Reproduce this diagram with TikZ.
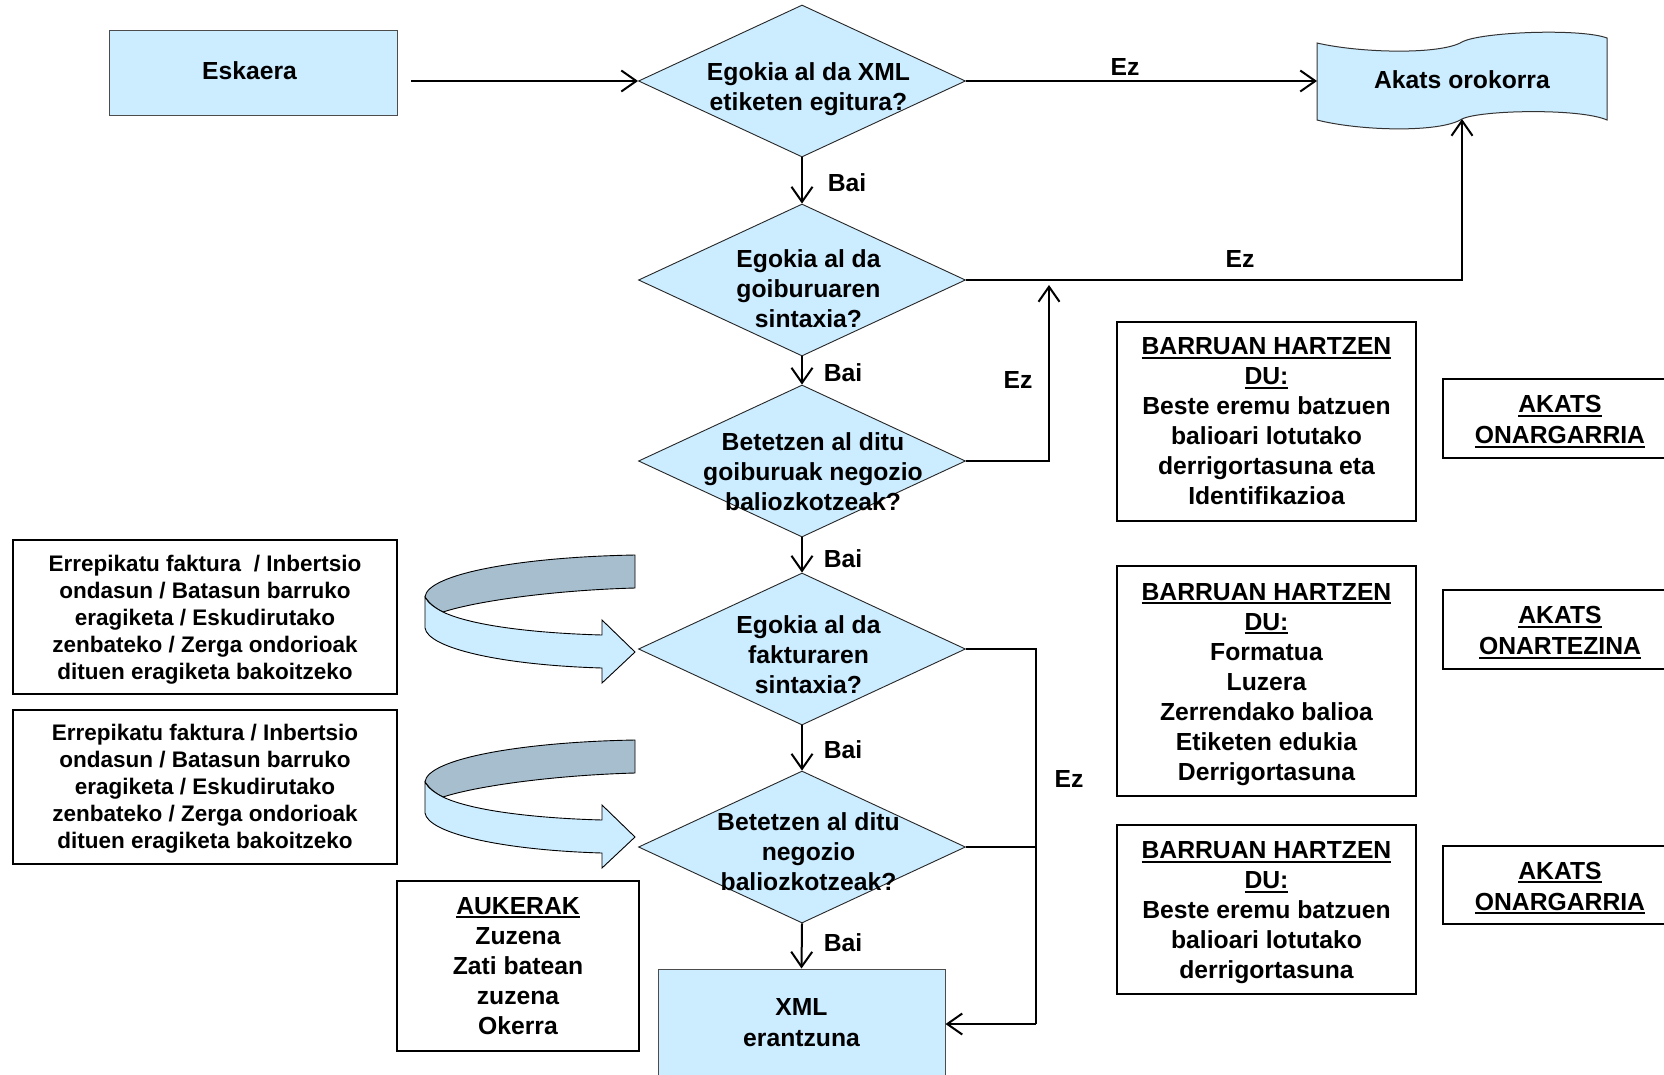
\documentclass[tikz,border=0pt]{standalone}
\usepackage{fontspec}
\setmainfont{Liberation Sans}
\usetikzlibrary{arrows.meta,shapes.geometric}
\definecolor{boxblue}{RGB}{204,236,255}
\definecolor{ribgrey}{RGB}{166,190,206}
\newcommand\myul[1]{\setbox0\hbox{#1}\rlap{\rule[-4pt]{\wd0}{2pt}}\box0}
\begin{document}
\begin{tikzpicture}[x=1pt,y=-1pt,
  base/.style={font=\fontsize{24.7}{30}\selectfont\bfseries, inner sep=0pt, align=center},
  small/.style={font=\fontsize{22.5}{27}\selectfont\bfseries, inner sep=0pt, align=center},
  dec/.style={diamond, draw=black!85, line width=0.9pt, fill=boxblue, minimum width=327pt, minimum height=152pt, inner sep=0pt},
  bluebox/.style={rectangle, draw=black!70, line width=1pt, fill=boxblue},
  wbox/.style={rectangle, draw=black, line width=2pt, fill=white},
  arr/.style={-{Straight Barb[length=15pt,width=21pt]}, line width=2pt},
  conn/.style={line width=2pt},
  ribbon/.style={draw=black, line width=0.9pt}]
\useasboundingbox (0,0) rectangle (1664,1074);
\clip (0,0) rectangle (1664,1074);
\fill[white] (0,0) rectangle (1664,1074);

% start box
\node[bluebox, minimum width=288pt, minimum height=85pt] (esk) at (253,73) {};
\node[base] (eskt) at (249.5,71) {Eskaera};
\coordinate (eskout) at (411,81);

% decisions
\node[dec] (d1) at (802,81) {};
\node[dec] (d2) at (802,280) {};
\node[dec] (d3) at (802,461) {};
\node[dec] (d4) at (802,649) {};
\node[dec] (d5) at (802,847) {};
\node[base] (t1) at (808.5,89) {Egokia al da XML\\etiketen egitura?};
\node[base] (t2) at (808.5,288.5) {Egokia al da\\goiburuaren\\sintaxia?};
\node[base] (t3) at (813,471.5) {Betetzen al ditu\\goiburuak negozio\\baliozkotzeak?};
\node[base] (t4) at (808.5,655) {Egokia al da\\fakturaren\\sintaxia?};
\node[base] (t5) at (808.5,852) {Betetzen al ditu\\negozio\\baliozkotzeak?};

% general error (punched tape)
\path[fill=boxblue, draw=black!80, line width=1pt]
  (1317,43) .. controls (1360,53) and (1440,55) .. (1462,42)
  .. controls (1480,32) and (1580,28) .. (1607,38)
  -- (1607,120)
  .. controls (1580,108) and (1480,110) .. (1462,119)
  .. controls (1440,133) and (1360,131) .. (1317,120) -- cycle;
\node[base] (akats) at (1462,80) {Akats orokorra};
\coordinate (akW) at (1317,81);
\coordinate (akS) at (1462,119);

% XML response
\node[bluebox, base, minimum width=287pt, minimum height=107pt] (xml) at (801.5,1022.5) {XML\\[1pt]erantzuna};

% connectors
\draw[arr] (eskout) -- (d1.west);
\draw[arr] (d1.east) -- (akW);
\draw[arr] (d1.south) -- (d2.north);
\draw[arr] (d2.south) -- (d3.north);
\draw[arr] (d3.south) -- (d4.north);
\draw[arr] (d4.south) -- (d5.north);
\draw[arr] (d5.south) -- (xml.north);
\draw[arr] (d2.east) -| (akS);
\coordinate (j3) at (1049,285);
\draw[arr] (d3.east) -| (j3);
\coordinate (j4) at (1036,649);
\coordinate (j5) at (1036,847);
\coordinate (j6) at (1036,1024);
\draw[conn] (d4.east) -- (j4) -- (j6);
\draw[conn] (d5.east) -- (j5);
\draw[arr] (j6) -- (xml.east |- j6);

% labels
\node[base] (ez1) at (1125,67) {Ez};
\node[base] (ez2) at (1240,259) {Ez};
\node[base] (ez3) at (1018,380) {Ez};
\node[base] (ez4) at (1069,779) {Ez};
\node[base] (b1) at (847,183) {Bai};
\node[base] (b2) at (843,373) {Bai};
\node[base] (b3) at (843,559) {Bai};
\node[base] (b4) at (843,750) {Bai};
\node[base] (b5) at (843,943) {Bai};

% left boxes
\node[wbox, minimum width=384pt, minimum height=154pt] (la) at (205,617) {};
\node[small] (lat) at (205,620)
  {Errepikatu faktura \ / Inbertsio\\ondasun / Batasun barruko\\eragiketa / Eskudirutako\\zenbateko / Zerga ondorioak\\dituen eragiketa bakoitzeko};
\node[wbox, minimum width=384pt, minimum height=154pt] (lb) at (205,787) {};
\node[small] (lbt) at (205,789)
  {Errepikatu faktura / Inbertsio\\ondasun / Batasun barruko\\eragiketa / Eskudirutako\\zenbateko / Zerga ondorioak\\dituen eragiketa bakoitzeko};
\node[wbox, base, minimum width=242pt, minimum height=170pt] (auk) at (518,966)
  {\myul{AUKERAK}\\Zuzena\\Zati batean\\zuzena\\Okerra};

% ribbon arrows
\foreach \dy/\nm in {0/r1,185/r2}{
  \begin{scope}[shift={(0,\dy)}]
    \path[ribbon, fill=ribgrey] (635,555) .. controls (520,557) and (427,574) .. (425,597)
      .. controls (430,604) and (436,609) .. (443,612)
      .. controls (480,600) and (560,590) .. (635,588) -- cycle;
    \path[ribbon, fill=boxblue] (425,597) -- (425,628)
      .. controls (428,648) and (500,665) .. (602,668) -- (602,683) -- (635,652)
      -- (602,620) -- (602,635)
      .. controls (530,633) and (470,625) .. (443,612)
      .. controls (435,608) and (428,603) .. (425,597) -- cycle;
    \coordinate (\nm) at (635,652);
  \end{scope}
}

% right boxes
\node[wbox, minimum width=299pt, minimum height=199pt] (r1b) at (1266.5,421.5) {};
\node[base] (r1t) at (1266.5,421.5)
  {\myul{BARRUAN HARTZEN}\\\myul{DU:}\\Beste eremu batzuen\\balioari lotutako\\derrigortasuna eta\\Identifikazioa};
\node[wbox, minimum width=299pt, minimum height=230pt] (r2b) at (1266.5,681) {};
\node[base] (r2t) at (1266.5,684.5)
  {\myul{BARRUAN HARTZEN}\\\myul{DU:}\\Formatua\\Luzera\\Zerrendako balioa\\Etiketen edukia\\Derrigortasuna};
\node[wbox, minimum width=299pt, minimum height=169pt] (r3b) at (1266.5,909.5) {};
\node[base] (r3t) at (1266.5,913)
  {\myul{BARRUAN HARTZEN}\\\myul{DU:}\\Beste eremu batzuen\\balioari lotutako\\derrigortasuna};

\node[wbox, minimum width=234pt, minimum height=79pt] (k1) at (1560,418.5) {};
\node[base] (k1t) at (1560,421.5) {\myul{AKATS}\\[1pt]\myul{ONARGARRIA}};
\node[wbox, minimum width=234pt, minimum height=79pt] (k2) at (1560,629.5) {};
\node[base] (k2t) at (1560,632.5) {\myul{AKATS}\\[1pt]\myul{ONARTEZINA}};
\node[wbox, minimum width=234pt, minimum height=78pt] (k3) at (1560,885) {};
\node[base] (k3t) at (1560,888) {\myul{AKATS}\\[1pt]\myul{ONARGARRIA}};
\end{tikzpicture}
\end{document}
